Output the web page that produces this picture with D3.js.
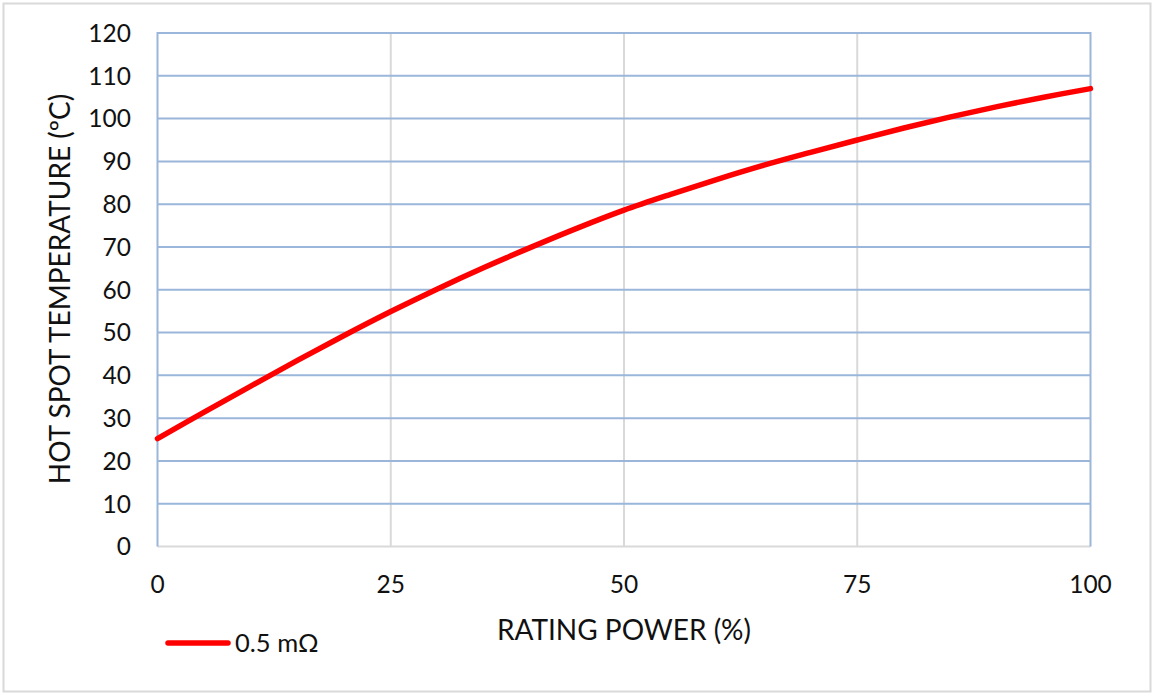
<!DOCTYPE html>
<html>
<head>
<meta charset="utf-8">
<script src="https://cdn.jsdelivr.net/npm/d3@7"></script>
<style>
  html, body { margin: 0; padding: 0; background: #fff; }
  svg { display: block; }
  text { font-family: Lato, "Open Sans", sans-serif; fill: #111; }
</style>
</head>
<body>
<svg id="chart" width="1153" height="694"></svg>
<script>
// ---- data ----
const ratingPower = [0, 5, 10, 15, 20, 25, 30, 35, 40, 45, 50, 55, 60, 65, 70, 75, 80, 85, 90, 95, 100];
const hotSpotTemp = [25.2, 31.4, 37.5, 43.5, 49.3, 54.9, 60.2, 65.2, 69.9, 74.4, 78.6, 82.3, 85.8, 89.1, 92.1, 95.0, 97.8, 100.4, 102.8, 105.0, 107.0];
const xTicks = [0, 25, 50, 75, 100];
const yTicks = [0, 10, 20, 30, 40, 50, 60, 70, 80, 90, 100, 110, 120];
const seriesName = "0.5 mΩ";
const xTitle = "RATING POWER (%)";
const yTitle = "HOT SPOT TEMPERATURE (ºC)";

// ---- layout ----
const svg = d3.select("#chart");
const pL = 157.5, pR = 1090.5, pT = 33, pB = 546.5;
const x = d3.scaleLinear().domain([0, 100]).range([pL, pR]);
const y = d3.scaleLinear().domain([0, 120]).range([pB, pT]);
const fs = 24.5;
const tfs = 28;

// outer border
svg.append("rect").attr("x", 3.5).attr("y", 3.5).attr("width", 1147).attr("height", 688)
  .attr("fill", "#fff").attr("stroke", "#d9d9d9").attr("stroke-width", 2);

// vertical grid (grey)
svg.append("g").selectAll("line").data(xTicks.filter(d => d > 0 && d < 100)).join("line")
  .attr("x1", d => x(d)).attr("x2", d => x(d)).attr("y1", pT).attr("y2", pB)
  .attr("stroke", "#d9d9d9").attr("stroke-width", 2);

// horizontal grid (blue)
svg.append("g").selectAll("line").data(yTicks.filter(d => d > 0)).join("line")
  .attr("x1", pL).attr("x2", pR).attr("y1", d => y(d)).attr("y2", d => y(d))
  .attr("stroke", "#9ab6da").attr("stroke-width", 2);

// x-axis baseline (grey)
svg.append("line").attr("x1", pL).attr("x2", pR).attr("y1", y(0)).attr("y2", y(0))
  .attr("stroke", "#d9d9d9").attr("stroke-width", 2);

// left & right blue edges
[0, 100].forEach(v => {
  svg.append("line").attr("x1", x(v)).attr("x2", x(v)).attr("y1", pT - 1).attr("y2", pB)
    .attr("stroke", "#9ab6da").attr("stroke-width", 2);
});

// y tick labels
svg.append("g").selectAll("text").data(yTicks).join("text")
  .attr("x", 131).attr("y", d => y(d)).attr("dy", "0.36em")
  .attr("text-anchor", "end").attr("font-size", fs).text(d => d);

// x tick labels
svg.append("g").selectAll("text").data(xTicks).join("text")
  .attr("x", d => x(d)).attr("y", 593)
  .attr("text-anchor", "middle").attr("font-size", fs).text(d => d);

// axis titles
svg.append("text").attr("x", (pL + pR) / 2).attr("y", 640)
  .attr("text-anchor", "middle").attr("font-size", tfs).text(xTitle);
svg.append("text").attr("transform", `translate(70,289) rotate(-90)`)
  .attr("text-anchor", "middle").attr("font-size", tfs).text(yTitle);

// series line
const line = d3.line().x((d, i) => x(ratingPower[i])).y(d => y(d)).curve(d3.curveCatmullRom.alpha(0.5));
svg.append("path").datum(hotSpotTemp).attr("d", line)
  .attr("fill", "none").attr("stroke", "#ff0000").attr("stroke-width", 5.5)
  .attr("stroke-linecap", "round").attr("stroke-linejoin", "round");

// legend
svg.append("line").attr("x1", 168).attr("x2", 228).attr("y1", 643).attr("y2", 643)
  .attr("stroke", "#ff0000").attr("stroke-width", 5.5).attr("stroke-linecap", "round");
svg.append("text").attr("x", 235).attr("y", 652).attr("font-size", 25.5).text(seriesName);
</script>
</body>
</html>
